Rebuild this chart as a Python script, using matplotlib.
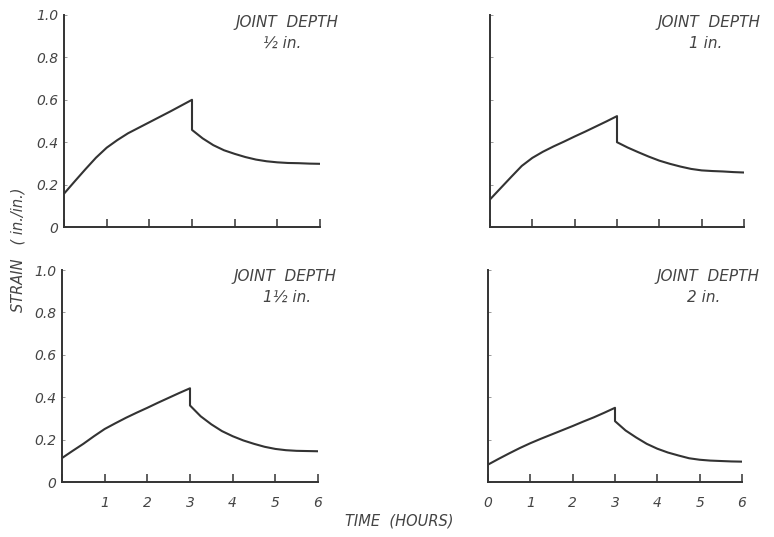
import matplotlib
matplotlib.use("Agg")
import matplotlib.pyplot as plt

# ---- data ----
hours = [0, 0.25, 0.5, 0.75, 1, 1.25, 1.5, 1.75, 2, 2.25, 2.5, 2.75, 3,
         3, 3.25, 3.5, 3.75, 4, 4.25, 4.5, 4.75, 5, 5.25, 5.5, 5.75, 6]

strain_half = [0.157, 0.215, 0.272, 0.327, 0.374, 0.41, 0.442, 0.468, 0.494,
               0.52, 0.546, 0.573, 0.60,
               0.458, 0.418, 0.386, 0.362, 0.345, 0.330, 0.318, 0.310, 0.305,
               0.302, 0.301, 0.299, 0.298]
strain_one = [0.13, 0.183, 0.236, 0.288, 0.326, 0.355, 0.38, 0.403, 0.427,
              0.45, 0.474, 0.498, 0.523,
              0.40, 0.375, 0.353, 0.332, 0.313, 0.298, 0.285, 0.274, 0.267,
              0.264, 0.262, 0.259, 0.257]
strain_one_half = [0.113, 0.147, 0.18, 0.216, 0.25, 0.277, 0.303, 0.327, 0.35,
                   0.374, 0.397, 0.42, 0.442,
                   0.361, 0.31, 0.272, 0.24, 0.216, 0.196, 0.18, 0.166, 0.156,
                   0.15, 0.147, 0.146, 0.145]
strain_two = [0.082, 0.109, 0.135, 0.16, 0.183, 0.204, 0.224, 0.244, 0.264,
              0.285, 0.305, 0.327, 0.35,
              0.287, 0.243, 0.21, 0.18, 0.157, 0.139, 0.125, 0.112, 0.105,
              0.101, 0.099, 0.097, 0.096]

depth_labels = ["½ in.", "1 in.", "1½ in.", "2 in."]
y_ticks = [0, 0.2, 0.4, 0.6, 0.8, 1.0]
y_tick_labels = ["0", "0.2", "0.4", "0.6", "0.8", "1.0"]
x_ticks = [0, 1, 2, 3, 4, 5, 6]
x_tick_labels_left = ["", "1", "2", "3", "4", "5", "6"]
x_tick_labels_right = ["0", "1", "2", "3", "4", "5", "6"]

W, H = 774, 537
INK = "#333333"
TXT = "#444444"
FONT = dict(family="DejaVu Sans", style="oblique", weight="light", color=TXT)

fig = plt.figure(figsize=(W / 100, H / 100), dpi=100)
fig.patch.set_facecolor("white")


def rect(x0, x1, ytop, ybot):
    return [x0 / W, 1 - ybot / H, (x1 - x0) / W, (ybot - ytop) / H]


axes_rects = [
    rect(64, 320, 15, 227),
    rect(490, 744, 15, 227),
    rect(62, 318, 270, 482),
    rect(488, 742, 270, 482),
]
series = [strain_half, strain_one, strain_one_half, strain_two]
title_pos = [  # (x line1, y line1, x line2, y line2) in pixels
    (287, 23, 282, 43),
    (709, 23, 706, 43),
    (285, 277, 287, 297),
    (708, 277, 704, 297),
]

for i, (r, s) in enumerate(zip(axes_rects, series)):
    ax = fig.add_axes(r)
    ax.plot(hours, s, color=INK, lw=1.5, solid_joinstyle="round")
    ax.set_xlim(0, 6)
    ax.set_ylim(0, 1.0)
    for side in ("top", "right"):
        ax.spines[side].set_visible(False)
    for side in ("left", "bottom"):
        ax.spines[side].set_color(INK)
        ax.spines[side].set_linewidth(1.4)
    ax.set_xticks(x_ticks)
    ax.set_yticks(y_ticks)
    ax.tick_params(axis="x", direction="in", length=6, width=1.1, color=INK, pad=10)
    ax.tick_params(axis="y", direction="in", length=2.5, width=0.7, color="#999999", pad=4)
    if i in (0, 2):
        ax.set_yticklabels(y_tick_labels, **FONT, fontsize=10)
    else:
        ax.set_yticklabels([])
    if i == 2:
        ax.set_xticklabels(x_tick_labels_left, **FONT, fontsize=10)
    elif i == 3:
        ax.set_xticklabels(x_tick_labels_right, **FONT, fontsize=10)
    else:
        ax.set_xticklabels([])
    x1, y1, x2, y2 = title_pos[i]
    fig.text(x1 / W, 1 - y1 / H, "JOINT  DEPTH", ha="center", va="center",
             fontsize=11, **FONT)
    fig.text(x2 / W, 1 - y2 / H, depth_labels[i], ha="center", va="center",
             fontsize=11, **FONT)

fig.text(18 / W, 1 - 250 / H, "STRAIN   ( in./in.)", rotation=90,
         ha="center", va="center", fontsize=10.5, **FONT)
fig.text(399 / W, 1 - 521 / H, "TIME  (HOURS)", ha="center", va="center",
         fontsize=10.5, **FONT)

fig.savefig("out.png", dpi=100, facecolor="white")
